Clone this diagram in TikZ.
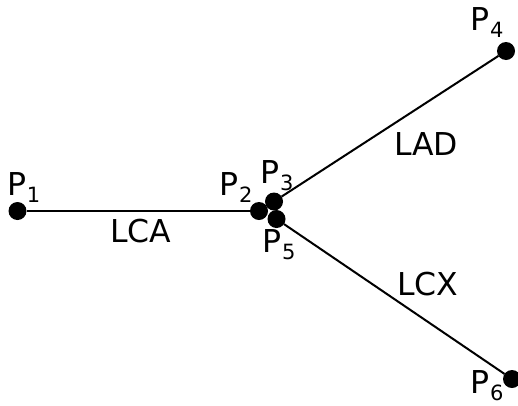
\documentclass[tikz,border=0pt]{standalone}
\usepackage{fontspec}
\setmainfont{DejaVu Sans}
\newcommand{\Plab}[1]{P\kern1pt\raisebox{-7pt}{\fontsize{21}{24}\selectfont #1}}
\begin{document}
\begin{tikzpicture}[x=1pt,y=1pt,
  dot/.style={circle,fill=black,inner sep=0pt,outer sep=0pt,minimum size=18pt},
  lbl/.style={anchor=base west,inner sep=0pt,outer sep=0pt,font=\fontsize{31.5}{36}\selectfont},
  seg/.style={line width=2pt}]
\useasboundingbox (0,0) rectangle (518,-405);
\clip (0,0) rectangle (518,-405);
\node[dot] (p1) at (17.5,-211) {};
\node[dot] (p2) at (259,-211) {};
\node[dot] (p3) at (274,-201.5) {};
\node[dot] (p5) at (276.5,-219) {};
\node[dot] (p4) at (506,-51) {};
\node[dot] (p6) at (512,-379) {};
\draw[seg] (p1) -- (p2);
\draw[seg] (p3) -- (p4);
\draw[seg] (p5) -- (p6);
\node[lbl] (l1) at (7,-195) {\Plab{1}};
\node[lbl] (l2) at (219,-195) {\Plab{2}};
\node[lbl] (l3) at (260,-183) {\Plab{3}};
\node[lbl] (l5) at (262,-252) {\Plab{5}};
\node[lbl] (l4) at (470,-30) {\Plab{4}};
\node[lbl] (l6) at (470,-393) {\Plab{6}};
\node[lbl] (lca) at (110,-242) {LCA};
\node[lbl] (lad) at (394,-155) {LAD};
\node[lbl] (lcx) at (397,-295) {LCX};
\end{tikzpicture}
\end{document}
